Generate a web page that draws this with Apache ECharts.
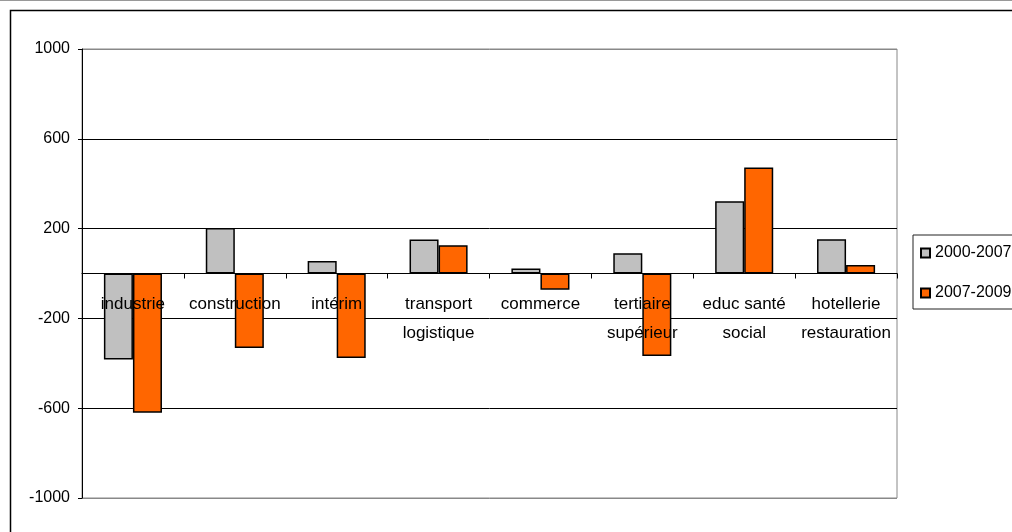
<!DOCTYPE html>
<html>
<head>
<meta charset="utf-8">
<script src="https://cdn.jsdelivr.net/npm/echarts@6/dist/echarts.min.js"></script>
<style>
  html, body { margin: 0; padding: 0; background: #fff; }
  #chart { width: 1012px; height: 532px; }
</style>
</head>
<body>
<div id="chart"></div>
<script>
var categories = ['industrie', 'construction', 'intérim', 'transport\nlogistique', 'commerce',
    'tertiaire\nsupérieur', 'educ santé\nsocial', 'hotellerie\nrestauration'];
var periodA = [-383, 203, 56, 152, 22, 90, 322, 153];
var periodB = [-620, -332, -376, 126, -72, -368, 472, 38];
var seriesNames = ['2000-2007', '2007-2009'];
var yTicks = { min: -1000, max: 1000, step: 400 };

var font = 'Liberation Sans, Arial, sans-serif';
var gridTop = 49, gridBottom = 34;
// value axis is symmetric, so zero sits half way down the plot
var zeroOffset = -(532 - gridTop - gridBottom) / 2;
var chart = echarts.init(document.getElementById('chart'));

var option = {
    animation: false,
    backgroundColor: '#fff',
    graphic: [{
        type: 'rect',
        shape: { x: 10.5, y: 10.5, width: 1020, height: 540 },
        style: { fill: 'none', stroke: '#000', lineWidth: 1.5 },
        z: -1
    }, {
        type: 'line',
        shape: { x1: 0, y1: 0.5, x2: 1012, y2: 0.5 },
        style: { stroke: '#999', lineWidth: 1 }
    }],
    grid: {
        left: 82, right: 115, top: gridTop, bottom: gridBottom,
        containLabel: false, outerBoundsMode: 'none',
        show: true, borderColor: '#888', borderWidth: 1
    },
    legend: {
        orient: 'vertical',
        left: 913,
        top: 235,
        padding: [10, 20, 8, 7],
        itemGap: 24,
        itemWidth: 9,
        itemHeight: 9,
        icon: 'rect',
        borderColor: '#222',
        borderWidth: 1,
        textStyle: { fontFamily: font, fontSize: 16, color: '#000' },
        data: seriesNames
    },
    xAxis: {
        type: 'category',
        data: categories,
        z: 10,
        position: 'bottom',
        offset: zeroOffset,
        axisLine: { onZero: false, lineStyle: { color: '#000', width: 1 } },
        axisTick: { show: true, length: 5, inside: false, lineStyle: { color: '#000' } },
        axisLabel: {
            interval: 0,
            margin: 16,
            fontFamily: font,
            fontSize: 17,
            color: '#000',
            lineHeight: 29
        }
    },
    yAxis: {
        type: 'value',
        min: yTicks.min,
        max: yTicks.max,
        interval: yTicks.step,
        axisLine: { show: true, lineStyle: { color: '#000' } },
        axisTick: { show: true, length: 4, lineStyle: { color: '#000' } },
        axisLabel: {
            margin: 12, fontFamily: font, fontSize: 16, color: '#000',
            formatter: function (v) { return String(v); }
        },
        splitLine: {
            show: true,
            lineStyle: { color: ['#888', '#000', '#000', '#000', '#000', '#888'], width: 1 }
        }
    },
    series: [{
        name: seriesNames[0],
        type: 'bar',
        data: periodA,
        barGap: '0%',
        barCategoryGap: '43%',
        itemStyle: { color: '#c0c0c0', borderColor: '#000', borderWidth: 1.5 }
    }, {
        name: seriesNames[1],
        type: 'bar',
        data: periodB,
        itemStyle: { color: '#ff6600', borderColor: '#000', borderWidth: 1.5 }
    }]
};
chart.setOption(option);
</script>
</body>
</html>
